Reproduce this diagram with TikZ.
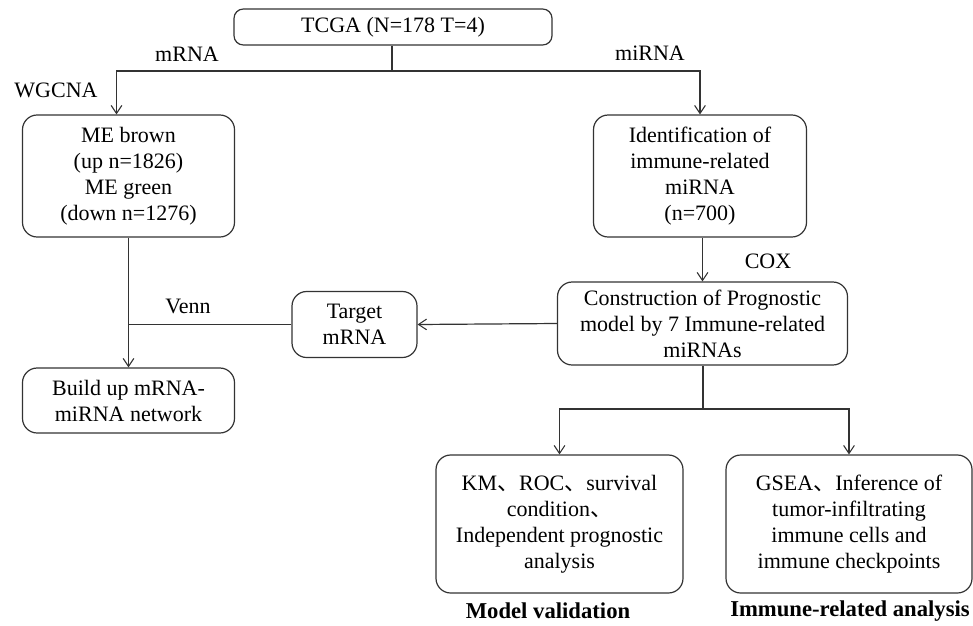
\documentclass[tikz,border=0pt]{standalone}
\usepackage{fontspec}
\setmainfont{Liberation Serif}
\newfontfamily\cjk{Noto Sans CJK SC}
\usepackage{tikz}
\usetikzlibrary{positioning,arrows.meta,calc}

\tikzset{
  box/.style={draw=black!80, line width=0.9pt, rounded corners=11pt, align=center,
    inner sep=2pt, font=\fontsize{16.5}{19.5}\selectfont},
  link/.style={draw=black!80, line width=0.9pt},
  arr/.style={link, -{Straight Barb[length=6pt,width=8pt,line width=0.8pt]}},
  lbl/.style={font=\fontsize{16.5}{19.5}\selectfont},
  title/.style={font=\bfseries\fontsize{17}{20}\selectfont}
}

\begin{document}
\begin{tikzpicture}[x=0.75pt, y=-0.75pt]
\useasboundingbox (0,0) rectangle (973,625);

% Data source
\node[box, rounded corners=7pt, minimum width=238.5pt, minimum height=27pt] (tcga) at (393,27) {TCGA (N=178 T=4)};

% mRNA branch
\node[box, minimum width=159pt, minimum height=91.5pt] (me) at (128.5,176) {ME brown\\(up n=1826)\\ME green\\(down n=1276)};
\node[box, minimum width=159pt, minimum height=48.75pt] (build) at (128.5,400.5) {Build up mRNA-\\miRNA network};
\node[box, minimum width=93.75pt, minimum height=49.5pt] (target) at (354.5,324.5) {Target\\mRNA};

% miRNA branch
\node[box, minimum width=159.75pt, minimum height=91.5pt] (ident) at (700,176) {Identification of\\immune-related\\miRNA\\(n=700)};
\node[box, minimum width=217.5pt, minimum height=62.25pt] (constr) at (702.5,323.5) {Construction of Prognostic\\model by 7 Immune-related\\miRNAs};

% Downstream analyses
\node[box, minimum width=185.25pt, minimum height=103.5pt] (km) at (559.5,524) {KM{\cjk 、}ROC{\cjk 、}survival\\condition{\cjk 、}\\Independent prognostic\\analysis};
\node[box, minimum width=184.5pt, minimum height=103.5pt] (gsea) at (849,524) {GSEA{\cjk 、}Inference of\\tumor-infiltrating\\immune cells and\\immune checkpoints};

% Split points
\coordinate (top) at (392,71);
\coordinate (mid) at (703,409);

% Connectors
\draw[link] (tcga.south -| top) -- (top);
\draw[arr] (top) -| ([xshift=-9pt]me.north);
\draw[arr] (top) -| (ident.north);
\draw[arr] (me) -- (build);
\draw[arr] (constr.north |- ident.south) -- (constr.north);
\draw[arr] (constr.west) -- (target.east);
\draw[link] (target.west) -- (target.west -| me.south);
\draw[link] (constr.south -| mid) -- (mid);
\draw[arr] (mid) -| (km.north);
\draw[arr] (mid) -| (gsea.north);

% Labels
\node[lbl] (mrna) at (187,54) {mRNA};
\node[lbl] (mirna) at (650,53) {miRNA};
\node[lbl] (wgcna) at (56,90) {WGCNA};
\node[lbl] (venn) at (188,306) {Venn};
\node[lbl] (cox) at (768,261) {COX};
\node[title] (valid) at (548,611) {Model validation};
\node[title] (immune) at (850,611) {Immune-related analysis};
\end{tikzpicture}
\end{document}
